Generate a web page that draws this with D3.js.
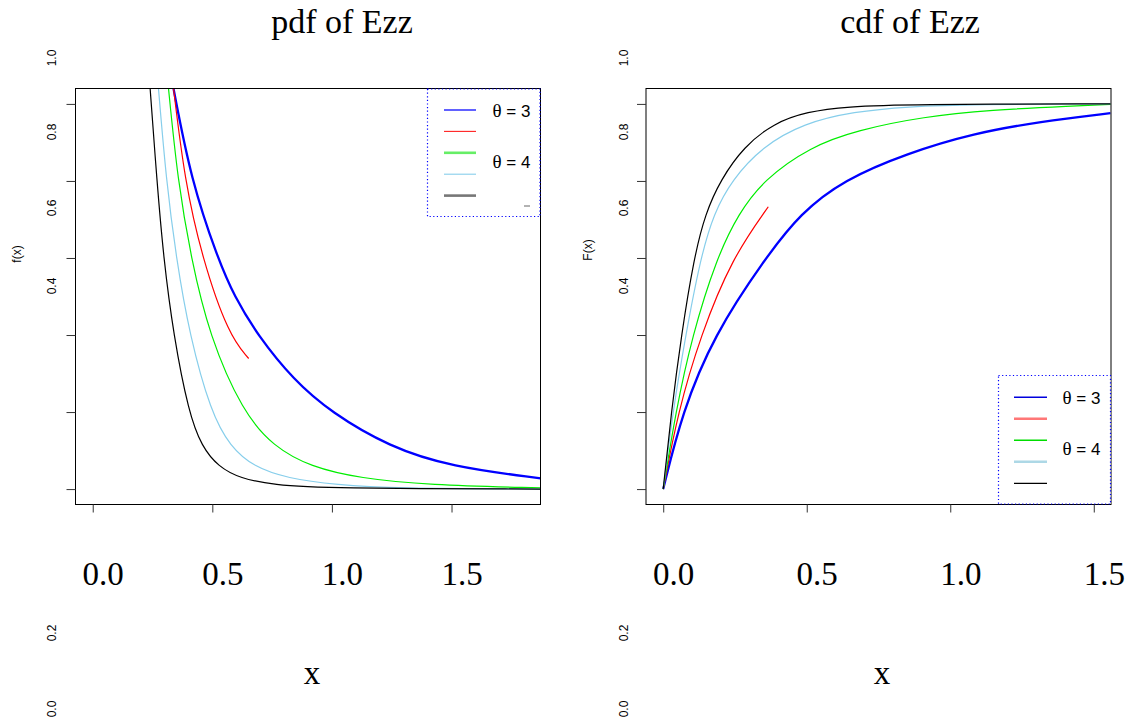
<!DOCTYPE html>
<html>
<head>
<meta charset="utf-8">
<script src="https://cdn.jsdelivr.net/npm/d3@7/dist/d3.min.js"></script>
<style>
  html, body { margin: 0; padding: 0; background: #fff; }
  svg { display: block; }
</style>
</head>
<body>
<script>
// pdf / cdf of Ezz, two panels side by side

var xTicks = [0, 0.5, 1, 1.5];
var yTicks = [0, 0.2, 0.4, 0.6, 0.8, 1];
var yTickLabels = ['0.0', '0.2', '0.4', '0.6', '0.8', '1.0'];
var seriesColors = ['#0000ff', '#ff0000', '#00ee00', '#87ceeb', '#000000'];
var legendLabels = ['\u03b8 = 3', '\u03b8 = 4'];

// pdf curves
var pdfBlueX  = [0.31, 0.338, 0.411, 0.522, 0.592, 0.690, 0.840, 0.997, 1.239, 1.497, 1.873];
var pdfBlueY  = [1.13, 1.039, 0.803, 0.600, 0.500, 0.399, 0.283, 0.199, 0.110, 0.058, 0.028];
var pdfRedX   = [0.32, 0.338, 0.384, 0.457, 0.569, 0.652];
var pdfRedY   = [1.13, 1.039, 0.803, 0.600, 0.399, 0.339];
var pdfGreenX = [0.30, 0.317, 0.355, 0.411, 0.487, 0.628, 0.757, 0.910, 1.119, 1.398, 1.873];
var pdfGreenY = [1.145, 1.039, 0.803, 0.600, 0.399, 0.199, 0.110, 0.058, 0.028, 0.011, 0.003];
var pdfSkyX   = [0.26, 0.275, 0.307, 0.349, 0.405, 0.494, 0.575, 0.673, 0.812, 1.022, 1.259, 1.873];
var pdfSkyY   = [1.15, 1.039, 0.803, 0.600, 0.399, 0.199, 0.110, 0.058, 0.028, 0.011, 0.002, 0];
var pdfBlackX = [0.225, 0.240, 0.268, 0.296, 0.338, 0.401, 0.456, 0.526, 0.616, 0.755, 0.98, 1.873];
var pdfBlackY = [1.17, 1.039, 0.803, 0.600, 0.399, 0.199, 0.110, 0.058, 0.028, 0.011, 0.002, 0];

// cdf curves
var cdfBlueX  = [0, 0.066, 0.176, 0.356, 0.478, 0.629, 0.850, 1.082, 1.314, 1.558];
var cdfBlueY  = [0, 0.199, 0.399, 0.600, 0.716, 0.803, 0.872, 0.924, 0.954, 0.976];
var cdfRedX   = [0, 0.051, 0.130, 0.240, 0.366];
var cdfRedY   = [0, 0.199, 0.399, 0.600, 0.733];
var cdfGreenX = [0, 0.043, 0.101, 0.186, 0.263, 0.350, 0.513, 0.676, 0.908, 1.140, 1.430, 1.558];
var cdfGreenY = [0, 0.199, 0.399, 0.600, 0.716, 0.803, 0.889, 0.932, 0.967, 0.984, 0.995, 0.999];
var cdfSkyX   = [0, 0.033, 0.078, 0.130, 0.176, 0.240, 0.345, 0.490, 0.664, 0.850, 1.082, 1.558];
var cdfSkyY   = [0, 0.199, 0.399, 0.600, 0.716, 0.803, 0.889, 0.950, 0.980, 0.993, 0.999, 1.0];
var cdfBlackX = [0, 0.028, 0.063, 0.107, 0.147, 0.200, 0.281, 0.385, 0.501, 0.641, 0.850, 1.558];
var cdfBlackY = [0, 0.199, 0.399, 0.600, 0.716, 0.803, 0.889, 0.950, 0.980, 0.993, 0.999, 1.0];

var SERIF = '"Liberation Serif", "Times New Roman", serif',
	SANS = '"Liberation Sans", Arial, sans-serif';

var svg = d3.select('body').append('svg')
	.attr('width', 1128)
	.attr('height', 724);

function zip(xs, ys) {
	return xs.map(function (x, i) { return [x, ys[i]]; });
}

function drawPanel(p) {
	var x = d3.scaleLinear().domain(p.xDomain).range(p.xRange),
		y = d3.scaleLinear().domain([-0.04, 1.04]).range([504.5, 88.5]),
		g = svg.append('g');

	g.append('clipPath').attr('id', p.id + '-clip')
		.append('rect')
		.attr('x', p.xRange[0]).attr('y', 88.5)
		.attr('width', p.xRange[1] - p.xRange[0]).attr('height', 416);

	// curves
	var line = d3.line()
		.x(function (d) { return x(d[0]); })
		.y(function (d) { return y(d[1]); })
		.curve(d3.curveBasis);
	g.append('g').attr('clip-path', 'url(#' + p.id + '-clip)')
		.selectAll('path')
		.data(p.series)
		.join('path')
		.attr('d', function (s) { return line(zip(s[0], s[1])); })
		.attr('fill', 'none')
		.attr('stroke', function (s, i) { return seriesColors[i]; })
		.attr('stroke-width', function (s, i) { return i === 0 ? 2.3 : 1.2; });

	// box
	g.append('rect')
		.attr('x', p.xRange[0]).attr('y', 88.5)
		.attr('width', p.xRange[1] - p.xRange[0]).attr('height', 416)
		.attr('fill', 'none').attr('stroke', '#000').attr('stroke-width', 1);

	// axes
	var ax = g.append('g').attr('transform', 'translate(0,504.5)')
		.call(d3.axisBottom(x).tickValues(xTicks).tickSize(8).tickFormat(d3.format('.1f')));
	ax.select('.domain').remove();
	ax.selectAll('line').attr('stroke', '#333');
	ax.selectAll('text')
		.attr('x', 10).attr('y', 80).attr('dy', null)
		.style('font-family', SERIF).style('font-size', '33px').attr('fill', '#000');

	var ay = g.append('g').attr('transform', 'translate(' + p.xRange[0] + ',0)')
		.call(d3.axisLeft(y).tickValues(yTicks).tickSize(9).tickFormat(''));
	ay.select('.domain').remove();
	ay.selectAll('line').attr('stroke', '#333');

	// misplaced y tick labels, as in the original
	g.selectAll('text.ylab')
		.data(yTickLabels)
		.join('text')
		.attr('class', 'ylab')
		.attr('transform', function (d) {
			return 'translate(' + p.yLabX + ',' + p.yLabPos[d] + ') rotate(-90)';
		})
		.attr('text-anchor', 'middle')
		.attr('dominant-baseline', 'central')
		.style('font-family', SANS).style('font-size', '12px')
		.text(function (d) { return d; });

	g.append('text')
		.attr('transform', 'translate(' + p.yTitle[0] + ',' + p.yTitle[1] + ') rotate(-90)')
		.attr('text-anchor', 'middle').attr('dominant-baseline', 'central')
		.style('font-family', SANS).style('font-size', '12px')
		.text(p.yTitleText);

	g.append('text')
		.attr('x', p.title[0]).attr('y', 33)
		.attr('text-anchor', 'middle')
		.style('font-family', SERIF).style('font-size', '34px')
		.text(p.titleText);

	g.append('text')
		.attr('x', p.xTitleX).attr('y', 684)
		.attr('text-anchor', 'middle')
		.style('font-family', SERIF).style('font-size', '33px')
		.text('x');

	// legend
	var lg = p.legend;
	g.append('rect')
		.attr('x', lg.x0).attr('y', lg.y0)
		.attr('width', lg.x1 - lg.x0).attr('height', lg.y1 - lg.y0)
		.attr('fill', '#fff')
		.attr('stroke', '#0000ff').attr('stroke-width', 1.2)
		.attr('stroke-dasharray', '1.2,2.4');
	g.selectAll('line.leg')
		.data(lg.colors)
		.join('line')
		.attr('class', 'leg')
		.attr('x1', lg.lx0).attr('x2', lg.lx1)
		.attr('y1', function (d, i) { return lg.ly0 + i * lg.dy; })
		.attr('y2', function (d, i) { return lg.ly0 + i * lg.dy; })
		.attr('stroke', function (d) { return d; })
		.attr('stroke-width', function (d, i) { return lg.widths[i]; });
	var lt = g.selectAll('text.legt')
		.data(legendLabels)
		.join('text')
		.attr('class', 'legt')
		.attr('x', lg.tx)
		.attr('y', function (d, i) { return lg.ty[i]; })
		.style('font-family', SANS).style('font-size', '17px');
	lt.append('tspan').style('font-family', SERIF).style('font-size', '19px')
		.text(function (d) { return d.slice(0, 1); });
	lt.append('tspan').text(function (d) { return d.slice(1); });
	if (lg.dash) {
		g.append('line')
			.attr('x1', lg.dash[0]).attr('x2', lg.dash[1])
			.attr('y1', lg.dash[2]).attr('y2', lg.dash[2])
			.attr('stroke', '#666').attr('stroke-width', 1);
	}
}

drawPanel({
	id: 'pdf',
	xDomain: [-0.072, 1.872], xRange: [75.5, 540.5],
	series: [[pdfBlueX, pdfBlueY], [pdfRedX, pdfRedY], [pdfGreenX, pdfGreenY], [pdfSkyX, pdfSkyY], [pdfBlackX, pdfBlackY]],
	yLabX: 52,
	yLabPos: { '1.0': 58, '0.8': 132, '0.6': 208, '0.4': 286, '0.2': 633, '0.0': 709 },
	yTitle: [17, 254], yTitleText: 'f(x)',
	title: [342], titleText: 'pdf of Ezz',
	xTitleX: 312,
	legend: {
		x0: 427.5, x1: 540, y0: 89, y1: 216.5,
		lx0: 444, lx1: 476, ly0: 110, dy: 21.4,
		colors: ['#3a3aff', '#ff2020', '#66ee66', '#87ceeb', '#777777'],
		widths: [1.6, 1.1, 2.6, 1.1, 2.6],
		tx: 492.5, ty: [116.5, 167.5],
		dash: [524, 530, 206]
	}
});

drawPanel({
	id: 'cdf',
	xDomain: [-0.06, 1.56], xRange: [646, 1111],
	series: [[cdfBlueX, cdfBlueY], [cdfRedX, cdfRedY], [cdfGreenX, cdfGreenY], [cdfSkyX, cdfSkyY], [cdfBlackX, cdfBlackY]],
	yLabX: 624,
	yLabPos: { '1.0': 58, '0.8': 132, '0.6': 208, '0.4': 286, '0.2': 633, '0.0': 709 },
	yTitle: [588, 250], yTitleText: 'F(x)',
	title: [910], titleText: 'cdf of Ezz',
	xTitleX: 882,
	legend: {
		x0: 998.5, x1: 1110.5, y0: 375.5, y1: 504,
		lx0: 1014, lx1: 1047, ly0: 397.3, dy: 21.5,
		colors: ['#0000dd', '#ff7777', '#00dd00', '#add8e6', '#000000'],
		widths: [1.4, 2.6, 1.4, 2.6, 1.2],
		tx: 1062.5, ty: [404, 455]
	}
});
</script>
</body>
</html>
